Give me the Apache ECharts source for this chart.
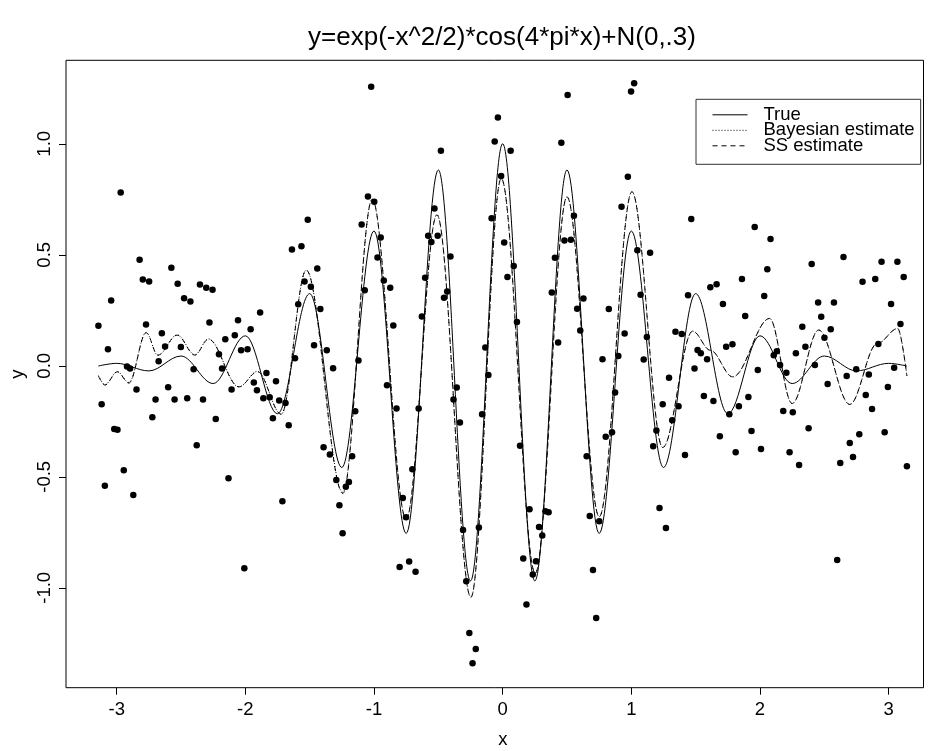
<!DOCTYPE html>
<html><head><meta charset="utf-8">
<script src="https://cdn.jsdelivr.net/npm/echarts@6/dist/echarts.min.js"></script>
<style>html,body{margin:0;padding:0;background:#fff}#c{width:932px;height:751px}</style>
</head><body><div id="c"></div>
<script>
const titleText = 'y=exp(-x^2/2)*cos(4*pi*x)+N(0,.3)';
const xTicks = [-3, -2, -1, 0, 1, 2, 3];
const yTicks = [-1, -0.5, 0, 0.5, 1];
const legendNames = ['True', 'Bayesian estimate', 'SS estimate'];

const pointX = [
-3.142,-3.117,-3.092,-3.068,-3.043,-3.019,-2.994,-2.969,-2.945,-2.920,
-2.896,-2.871,-2.846,-2.822,-2.797,-2.772,-2.748,-2.723,-2.698,-2.674,
-2.649,-2.624,-2.600,-2.575,-2.550,-2.526,-2.501,-2.476,-2.452,-2.427,
-2.402,-2.378,-2.353,-2.329,-2.304,-2.279,-2.255,-2.230,-2.205,-2.181,
-2.156,-2.131,-2.107,-2.082,-2.057,-2.033,-2.008,-1.983,-1.959,-1.934,
-1.910,-1.885,-1.860,-1.836,-1.811,-1.786,-1.762,-1.737,-1.712,-1.688,
-1.663,-1.638,-1.614,-1.589,-1.564,-1.540,-1.515,-1.491,-1.466,-1.441,
-1.417,-1.392,-1.367,-1.343,-1.318,-1.293,-1.269,-1.244,-1.219,-1.195,
-1.170,-1.146,-1.121,-1.096,-1.072,-1.047,-1.022,-0.998,-0.973,-0.948,
-0.924,-0.899,-0.874,-0.850,-0.825,-0.801,-0.776,-0.751,-0.727,-0.702,
-0.677,-0.653,-0.628,-0.603,-0.579,-0.554,-0.530,-0.505,-0.480,-0.456,
-0.431,-0.406,-0.382,-0.357,-0.332,-0.308,-0.283,-0.259,-0.234,-0.209,
-0.185,-0.160,-0.135,-0.111,-0.086,-0.062,-0.037,-0.012,0.012,0.037,
0.062,0.086,0.111,0.135,0.160,0.185,0.209,0.234,0.259,0.283,
0.308,0.332,0.357,0.382,0.406,0.431,0.456,0.480,0.505,0.530,
0.554,0.579,0.603,0.628,0.653,0.677,0.702,0.727,0.751,0.776,
0.801,0.825,0.850,0.874,0.899,0.924,0.948,0.973,0.998,1.022,
1.047,1.072,1.096,1.121,1.146,1.170,1.195,1.219,1.244,1.269,
1.293,1.318,1.343,1.367,1.392,1.417,1.441,1.466,1.491,1.515,
1.540,1.564,1.589,1.614,1.638,1.663,1.688,1.712,1.737,1.762,
1.786,1.811,1.836,1.860,1.885,1.910,1.934,1.959,1.983,2.008,
2.033,2.057,2.082,2.107,2.131,2.156,2.181,2.205,2.230,2.255,
2.279,2.304,2.329,2.353,2.378,2.402,2.427,2.452,2.476,2.501,
2.526,2.550,2.575,2.600,2.624,2.649,2.674,2.698,2.723,2.748,
2.772,2.797,2.822,2.846,2.871,2.896,2.920,2.945,2.969,2.994,
3.019,3.043,3.068,3.092,3.117,3.142
];
const pointY = [
0.180,-0.173,-0.540,0.075,0.294,-0.285,-0.288,0.780,-0.470,-0.003,
-0.012,-0.582,-0.107,0.478,0.389,0.186,0.380,-0.232,-0.152,0.020,
0.146,0.087,-0.097,0.442,-0.152,0.370,0.085,0.304,-0.146,0.290,
-0.016,-0.358,0.366,-0.152,0.352,0.195,0.342,-0.240,0.052,-0.012,
0.119,-0.507,-0.107,0.137,0.205,0.070,-0.912,0.074,0.165,-0.075,
-0.110,0.240,-0.146,-0.033,-0.142,-0.236,-0.070,-0.156,-0.610,-0.168,
-0.268,0.524,0.034,0.277,0.538,0.380,0.658,0.356,0.093,0.438,
0.256,-0.367,0.070,-0.400,-0.011,-0.515,-0.628,-0.754,-0.545,-0.524,
-0.407,-0.205,0.024,0.636,0.340,0.762,1.257,0.739,0.488,0.578,
0.384,-0.088,0.352,0.182,-0.192,-0.906,-0.596,-0.682,-0.881,-0.466,
-0.928,-0.192,0.222,0.397,0.586,0.558,0.708,0.586,0.969,0.306,
0.335,0.492,-0.152,-0.098,-0.255,-0.740,-0.970,-1.204,-1.340,-1.276,
-0.728,-0.218,0.082,-0.042,0.665,1.010,1.118,0.855,0.555,0.400,
0.969,0.450,0.197,-0.360,-0.868,-1.075,-0.646,-0.940,-0.880,-0.726,
-0.765,-0.655,-0.660,0.330,0.487,0.105,1.005,0.564,1.220,0.568,
0.676,0.257,0.159,0.303,-0.408,-0.677,-0.920,-1.136,-0.700,0.030,
-0.320,0.256,-0.299,-0.120,0.044,0.716,0.145,0.852,1.235,1.273,
0.520,0.320,0.028,0.130,0.509,-0.362,-0.291,-0.641,-0.173,-0.731,
-0.054,-0.245,0.153,-0.182,0.143,-0.402,0.318,0.661,-0.012,0.071,
0.056,-0.136,0.030,0.354,-0.159,0.367,-0.317,0.278,0.086,-0.218,
0.097,-0.389,-0.182,0.391,0.224,-0.141,-0.294,0.625,-0.019,-0.375,
0.314,0.435,0.571,0.048,0.066,0.003,-0.204,-0.031,-0.389,-0.209,
0.056,-0.447,0.176,0.086,-0.281,0.458,0.003,0.285,0.221,0.126,
-0.082,0.165,0.285,-0.875,-0.438,0.490,-0.046,-0.348,-0.411,-0.016,
-0.308,0.379,-0.132,-0.039,-0.195,0.391,0.098,0.469,-0.299,-0.096,
0.278,-0.009,0.469,0.188,0.400,-0.452
];

// True curve: read at its peaks/troughs
const trueX = [-3.142,-3,-2.75,-2.5,-2.25,-2,-1.75,-1.5,-1.25,-1,-0.75,-0.5,-0.25,0,
  0.25,0.5,0.75,1,1.25,1.5,1.75,2,2.25,2.5,2.75,3,3.142];
const trueY = [-0.001,0.011,-0.023,0.044,-0.080,0.135,-0.216,0.325,-0.458,0.607,-0.755,0.882,-0.969,1.000,
  -0.969,0.882,-0.755,0.607,-0.458,0.325,-0.216,0.135,-0.080,0.044,-0.023,0.011,-0.001];

// Estimates: read at their turning points
const estX = [-3.142,-3.092,-2.995,-2.905,-2.771,-2.680,-2.530,-2.392,-2.287,-2.050,-1.905,-1.721,
  -1.527,-1.242,-1.014,-0.750,-0.511,-0.247,-0.011,0.253,0.500,0.751,1.005,1.244,
  1.477,1.614,1.788,2.075,2.250,2.456,2.698,2.911,3.071,3.142];
const bayesY = [-0.044,-0.085,-0.027,-0.075,0.150,0.047,0.139,0.050,0.121,-0.095,-0.025,-0.218,
  0.431,-0.570,0.750,-0.690,0.680,-1.043,0.844,-0.935,0.761,-0.680,0.784,-0.368,
  0.156,0.070,-0.050,0.213,-0.170,0.161,-0.174,0.100,0.168,-0.046];
const ssY = [-0.046,-0.087,-0.027,-0.078,0.149,0.048,0.138,0.048,0.120,-0.095,-0.027,-0.218,
  0.431,-0.575,0.750,-0.690,0.680,-1.043,0.844,-0.935,0.761,-0.680,0.784,-0.368,
  0.156,0.070,-0.050,0.213,-0.170,0.161,-0.174,0.100,0.168,-0.046];

const zip = (a, b) => a.map((v, i) => [v, b[i]]);
const FONT = '"Liberation Sans", Arial, Helvetica, sans-serif';
const FS = 18.5;

const chart = echarts.init(document.getElementById('c'), null, {renderer: 'canvas'});
chart.setOption({
  animation: false,
  backgroundColor: '#ffffff',
  graphic: [{
    type: 'text', x: 502, y: 38, silent: true,
    style: {text: titleText, fill: '#000', fontSize: 26, fontFamily: FONT, align: 'center', verticalAlign: 'middle'}
  }],
  grid: {left: 66, right: 8.5, top: 60.3, bottom: 63.3, show: true, borderColor: '#000', borderWidth: 1,
         containLabel: false, outerBoundsMode: 'none'},
  legend: {
    data: legendNames, orient: 'vertical', left: 696, top: 99.3,
    itemWidth: 35, itemHeight: 10, itemGap: -3.5, padding: [6, 6, 9, 16],
    borderColor: '#333', borderWidth: 1, selectedMode: false,
    itemStyle: {color: 'transparent', opacity: 0, borderWidth: 0},
    lineStyle: {width: 1},
    textStyle: {fontSize: FS, fontFamily: FONT, color: '#000', lineHeight: 16, padding: [0, 0, 0, 11]}
  },
  xAxis: {
    type: 'value', min: -3.394, max: 3.271,
    name: 'x', nameLocation: 'middle', nameGap: 43,
    nameTextStyle: {fontSize: FS, fontFamily: FONT, color: '#000', padding: [0, 0, 0, 16]},
    axisLine: {show: false, onZero: false}, splitLine: {show: false},
    axisTick: {show: true, length: 7, customValues: xTicks, lineStyle: {color: '#000', width: 1}},
    axisLabel: {customValues: xTicks, margin: 13, color: '#000', fontSize: FS, fontFamily: FONT, formatter: v => String(v)}
  },
  yAxis: {
    type: 'value', min: -1.45, max: 1.376,
    name: 'y', nameLocation: 'middle', nameGap: 39, nameRotate: 90,
    nameTextStyle: {fontSize: FS, fontFamily: FONT, color: '#000'},
    axisLine: {show: false, onZero: false}, splitLine: {show: false},
    axisTick: {show: true, length: 7, customValues: yTicks, lineStyle: {color: '#000', width: 1}},
    axisLabel: {customValues: yTicks, rotate: 90, margin: 12, color: '#000', fontSize: FS, fontFamily: FONT, formatter: v => v.toFixed(1)}
  },
  series: [
    {type: 'scatter', name: 'points', data: zip(pointX, pointY), symbol: 'circle', symbolSize: 6.5,
     itemStyle: {color: '#000', opacity: 1}, silent: true, z: 2},
    {type: 'line', name: 'True', data: zip(trueX, trueY), symbol: 'none', showSymbol: false,
     smooth: 0.35, smoothMonotone: 'x', lineStyle: {color: '#000', width: 1, type: 'solid'}, itemStyle: {color: '#000'}, z: 3},
    {type: 'line', name: 'Bayesian estimate', data: zip(estX, bayesY), symbol: 'none', showSymbol: false,
     smooth: 0.35, smoothMonotone: 'x', lineStyle: {color: '#000', width: 1, type: [1, 2]}, itemStyle: {color: '#000'}, z: 3},
    {type: 'line', name: 'SS estimate', data: zip(estX, ssY), symbol: 'none', showSymbol: false,
     smooth: 0.35, smoothMonotone: 'x', lineStyle: {color: '#000', width: 1, type: [5, 4]}, itemStyle: {color: '#000'}, z: 3}
  ]
});
</script>
</body></html>
